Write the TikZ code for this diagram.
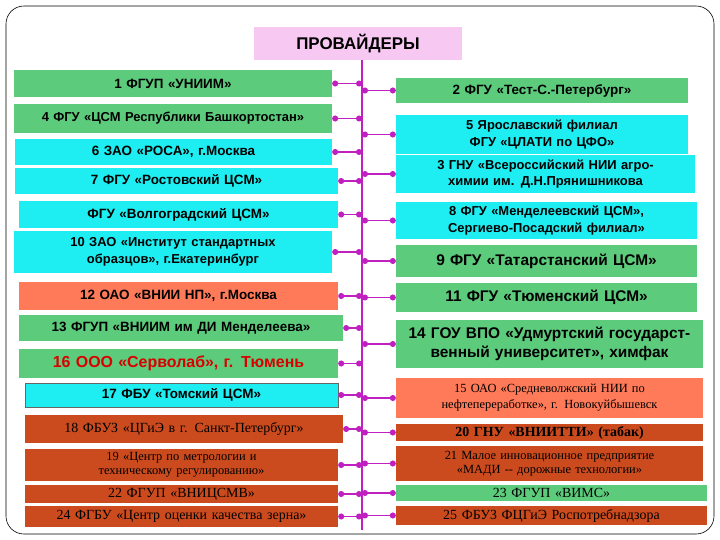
\documentclass[tikz,border=0pt]{standalone}
\usepackage{fontspec}
\setmainfont{Liberation Sans}
\newfontfamily\serf{Liberation Serif}
\usetikzlibrary{arrows.meta}
\definecolor{gr}{HTML}{5CCB7C}
\definecolor{cy}{HTML}{1EEEF2}
\definecolor{sa}{HTML}{FF7A58}
\definecolor{br}{HTML}{CC4B1E}
\definecolor{pk}{HTML}{F7C8F2}
\definecolor{mg}{HTML}{C020C0}
\tikzset{box/.style={inner sep=0pt,align=center,font=\fontsize{13.5}{16}\selectfont\bfseries},
 g/.style={fill=gr},c/.style={fill=cy},s/.style={fill=sa},b/.style={fill=br,font=\serf\fontsize{14}{15}\selectfont},
 conn/.style={mg,line width=1.4pt,{Circle[length=6pt]}-{Circle[length=6pt]}}}
\newcommand{\bx}[7]{\pgfmathsetmacro\tw{#3-#2-4}\node[box,#6,minimum width={(#3-#2)*1bp},minimum height={(#5-#4)*1bp},text width=\tw bp] (#1) at ({(#2+#3)/2},{(#4+#5)/2}) {#7};}
\begin{document}
\begin{tikzpicture}[x=1bp,y=-1bp]
\useasboundingbox (0,0) rectangle (720,540);
\draw[black,line width=0.6pt,rounded corners=18pt] (6,6) rectangle (714,534);
\node[fill=pk,minimum width=208bp,minimum height=33bp,font=\fontsize{17}{19}\selectfont\bfseries] (T) at (358,43.5) {ПРОВАЙДЕРЫ};
\coordinate (sp) at (362,0);
\coordinate (sb) at (362,530);
\draw[mg,line width=1.4pt] (T.south -| sp) -- (sb);
\bx{L1}{14}{332}{70}{97}{g}{1 ФГУП «УНИИМ»}
\bx{L2}{14}{332}{104}{133}{g,font=\fontsize{13}{15}\selectfont\bfseries}{4 ФГУ «ЦСМ Республики Башкортостан»}
\bx{L3}{15}{332}{139}{165}{c}{6 ЗАО «РОСА», г.Москва}
\bx{L4}{15}{338}{168}{194}{c}{7 ФГУ «Ростовский ЦСМ»}
\bx{L5}{19}{338}{201}{228}{c}{ФГУ «Волгоградский ЦСМ»}
\bx{L6}{14}{332}{231}{273}{c,font=\fontsize{13}{17}\selectfont\bfseries}{10 ЗАО «Институт стандартных образцов», г.Екатеринбург}
\bx{L7}{19}{338}{282}{310}{s}{12 ОАО «ВНИИ НП», г.Москва}
\bx{L8}{19}{343}{315}{341}{g}{13 ФГУП «ВНИИМ им ДИ Менделеева»}
\bx{L9}{19}{338}{349}{378}{g,text=red!85!black,font=\fontsize{16}{18}\selectfont\bfseries}{16 ООО «Серволаб», г. Тюмень}
\bx{L10}{25}{338}{383}{407}{c,draw=black!60}{17 ФБУ «Томский ЦСМ»}
\bx{L11}{25}{343}{415}{443}{b}{18 ФБУЗ «ЦГиЭ в г. Санкт-Петербург»}
\bx{L12}{25}{338}{449}{481}{b,font=\serf\fontsize{12.5}{14}\selectfont}{19 «Центр по метрологии и техническому регулированию»}
\bx{L13}{25}{338}{485}{503}{b}{22 ФГУП «ВНИЦСМВ»}
\bx{L14}{25}{338}{506}{527}{b}{24 ФГБУ «Центр оценки качества зерна»}
\bx{R1}{396}{688}{78}{103}{g}{2 ФГУ «Тест-С.-Петербург»}
\bx{R2}{396}{688}{115}{154}{c,font=\fontsize{13}{17}\selectfont\bfseries}{5 Ярославский филиал ФГУ «ЦЛАТИ по ЦФО»}
\bx{R3}{396}{695}{155}{193}{c,font=\fontsize{13}{17}\selectfont\bfseries}{3 ГНУ «Всероссийский НИИ агро-химии им. Д.Н.Прянишникова}
\bx{R4}{396}{697}{202}{239}{c,font=\fontsize{13}{17}\selectfont\bfseries}{8 ФГУ «Менделеевский ЦСМ», Сергиево-Посадский филиал»}
\bx{R5}{396}{697}{245}{277}{g,font=\fontsize{15.5}{17}\selectfont\bfseries}{9 ФГУ «Татарстанский ЦСМ»}
\bx{R6}{396}{697}{283}{312}{g,font=\fontsize{15.5}{17}\selectfont\bfseries}{11 ФГУ «Тюменский ЦСМ»}
\bx{R7}{396}{703}{320}{368}{g,font=\fontsize{15.5}{19}\selectfont\bfseries}{14 ГОУ ВПО «Удмуртский государст-венный университет», химфак}
\bx{R8}{396}{703}{378}{418}{s,font=\serf\fontsize{12.5}{16}\selectfont}{15 ОАО «Средневолжский НИИ по нефтепереработке», г. Новокуйбышевск}
\bx{R9}{396}{703}{424}{441}{b,font=\serf\fontsize{14}{15}\selectfont\bfseries}{20 ГНУ «ВНИИТТИ» (табак)}
\bx{R10}{396}{703}{446}{481}{b,font=\serf\fontsize{12.5}{14}\selectfont}{21 Малое инновационное предприятие «МАДИ -- дорожные технологии»}
\bx{R11}{396}{707}{485}{501}{g,font=\serf\fontsize{14}{15}\selectfont}{23 ФГУП «ВИМС»}
\bx{R12}{396}{707}{506}{525}{b}{25 ФБУЗ ФЦГиЭ Роспотребнадзора}
\foreach \n in {L1,L2,L3,L4,L5,L6,L7,L8,L9,L10,L11,L12,L13,L14}
  \draw[conn] (\n.east) -- (\n.east -| sp);
\foreach \n in {R1,R2,R3,R4,R5,R6,R7,R8,R9,R10,R11,R12}
  \draw[conn] (\n.west -| sp) -- (\n.west);
\end{tikzpicture}
\end{document}
